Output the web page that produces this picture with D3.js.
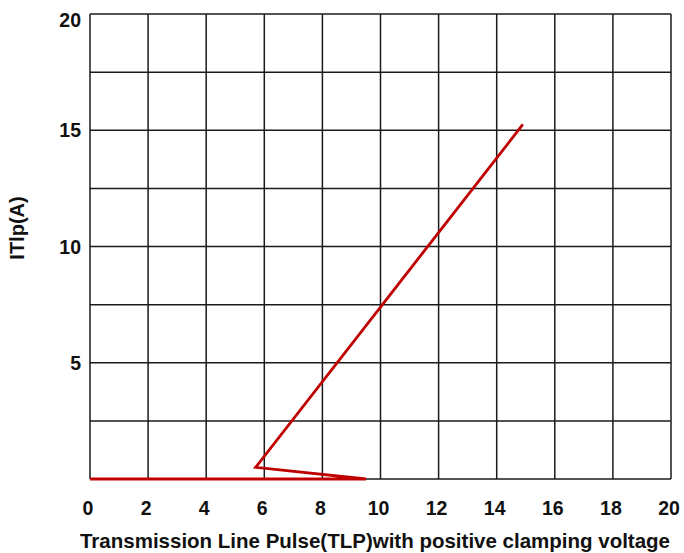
<!DOCTYPE html>
<html>
<head>
<meta charset="utf-8">
<script src="https://cdn.jsdelivr.net/npm/d3@7"></script>
<style>
  body { margin: 0; background: #fff; }
  text { font-family: "Liberation Sans", Arial, sans-serif; font-weight: bold; fill: #111; }
</style>
</head>
<body>
<svg width="684" height="553"></svg>
<script>
// TLP curve (V, A)
var voltage = [0, 9.5, 5.7, 14.9];
var current = [0, 0, 0.5, 15.25];
var xTicks = [0, 2, 4, 6, 8, 10, 12, 14, 16, 18, 20];
var yTicks = [5, 10, 15, 20];
var yGrid = [0, 2.5, 5, 7.5, 10, 12.5, 15, 17.5, 20];

var svg = d3.select("svg");
var plotL = 90, plotR = 671, plotT = 14, plotB = 479;

var x = d3.scaleLinear().domain([0, 20]).range([plotL, plotR]);
var y = d3.scaleLinear().domain([0, 20]).range([plotB, plotT]);

// grid
svg.append("g").selectAll("line")
    .data(xTicks)
    .enter()
    .append("line")
    .attr("x1", function (d) { return x(d); })
    .attr("x2", function (d) { return x(d); })
    .attr("y1", plotT)
    .attr("y2", plotB)
    .attr("stroke", "#1a1a1a")
    .attr("stroke-width", 1.5);

svg.append("g").selectAll("line")
    .data(yGrid)
    .enter()
    .append("line")
    .attr("x1", plotL)
    .attr("x2", plotR)
    .attr("y1", function (d) { return y(d); })
    .attr("y2", function (d) { return y(d); })
    .attr("stroke", "#1a1a1a")
    .attr("stroke-width", 1.5);

// tick labels
svg.append("g").selectAll("text")
    .data(xTicks)
    .enter()
    .append("text")
    .text(function (d) { return d; })
    .attr("x", function (d) { return x(d) - 2; })
    .attr("y", 515)
    .attr("text-anchor", "middle")
    .style("font-size", "19.5px");

svg.append("g").selectAll("text")
    .data(yTicks)
    .enter()
    .append("text")
    .text(function (d) { return d; })
    .attr("x", 81)
    .attr("y", function (d) { return Math.max(y(d), 20) + 7; })
    .attr("text-anchor", "end")
    .style("font-size", "19.5px");

// axis titles
svg.append("text")
    .text("Transmission Line Pulse(TLP)with positive clamping voltage")
    .attr("x", 375)
    .attr("y", 548)
    .attr("text-anchor", "middle")
    .style("font-size", "20.5px");

svg.append("text")
    .text("ITlp(A)")
    .attr("transform", "translate(24,228) rotate(-90)")
    .attr("text-anchor", "middle")
    .style("font-size", "20px");

// curve
var line = d3.line()
    .x(function (d, i) { return x(voltage[i]); })
    .y(function (d, i) { return y(current[i]); });

svg.append("path")
    .datum(voltage)
    .attr("d", line)
    .attr("fill", "none")
    .attr("stroke", "#c00000")
    .attr("stroke-width", 2.8)
    .attr("stroke-linejoin", "miter");
</script>
</body>
</html>
